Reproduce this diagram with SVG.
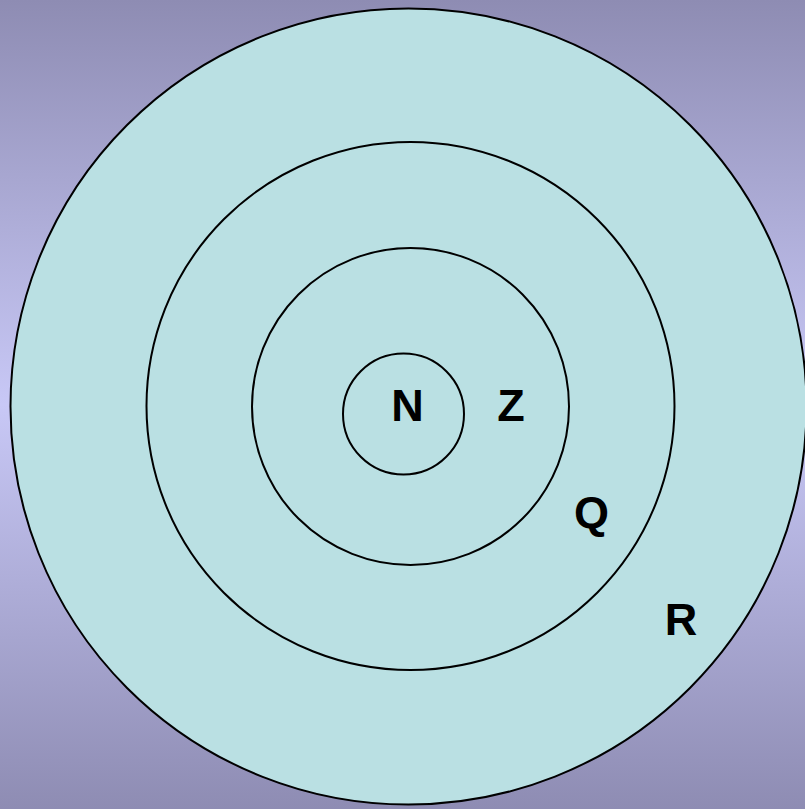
<svg xmlns="http://www.w3.org/2000/svg" width="805" height="809" viewBox="0 0 805 809">
<defs>
<linearGradient id="bg" x1="0" y1="0" x2="0" y2="1">
<stop offset="0" stop-color="#8e8cb3"/>
<stop offset="0.5" stop-color="#c8c8f6"/>
<stop offset="1" stop-color="#8e8cb3"/>
</linearGradient>
</defs>
<style>
.ring{fill:#bae0e3;stroke:#000;stroke-width:2}
.lbl{font-family:"Liberation Sans",Arial,sans-serif;font-weight:bold;font-size:45px;fill:#000;text-anchor:middle}
</style>
<rect width="805" height="809" fill="url(#bg)"/>
<g id="R"><circle class="ring" cx="408.5" cy="406.5" r="398"/><text class="lbl" x="681" y="635">R</text></g>
<g id="Q"><circle class="ring" cx="410.5" cy="406" r="264"/><text class="lbl" x="591.5" y="528">Q</text></g>
<g id="Z"><circle class="ring" cx="410.5" cy="406.5" r="158.5"/><text class="lbl" x="511" y="421">Z</text></g>
<g id="N"><circle class="ring" cx="403.5" cy="414" r="60.5"/><text class="lbl" x="407.5" y="421">N</text></g>
</svg>
